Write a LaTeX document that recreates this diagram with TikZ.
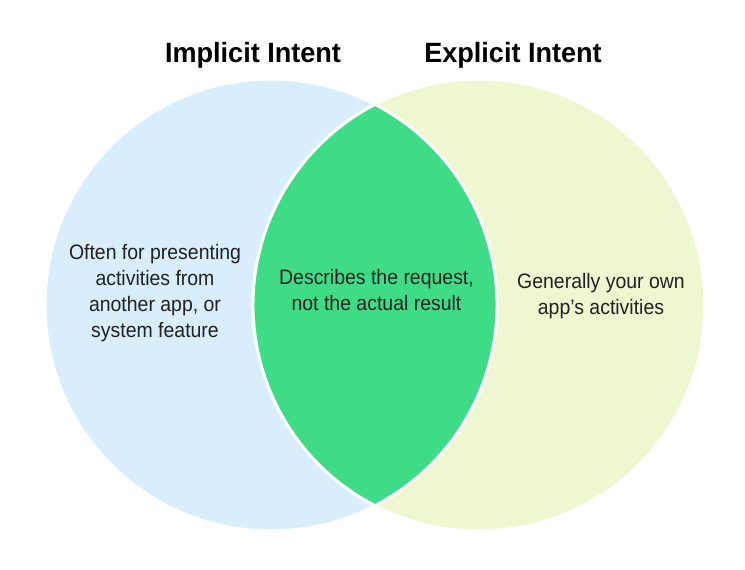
\documentclass[tikz,border=0pt]{standalone}
\usepackage{fontspec}
\setmainfont{Liberation Sans}
\newfontfamily\bodyfont[FakeStretch=0.93]{Liberation Sans}
\newfontfamily\titlefont[FakeStretch=0.97]{Liberation Sans}
\definecolor{leftblue}{RGB}{216,238,252}
\definecolor{rightyellow}{RGB}{239,247,208}
\definecolor{lensgreen}{RGB}{63,220,136}
\definecolor{textdark}{RGB}{33,33,33}
\newcommand{\linesblock}[1]{\begin{tabular}[t]{@{}c@{}}#1\end{tabular}}
\begin{document}
\begin{tikzpicture}[x=1bp,y=1bp,
  titletext/.style={anchor=base, inner sep=0pt, text=black, font=\titlefont\bfseries\fontsize{28}{32}\selectfont},
  bodytext/.style={anchor=base, inner sep=0pt, text=textdark, font=\bodyfont\fontsize{21}{26}\selectfont},
  setfill/.style={draw=white, line width=3bp}]
\useasboundingbox (0,0) rectangle (745,570);
\coordinate (L) at (271,265);
\coordinate (R) at (479,265);
\coordinate (top) at (375,465.6);
\fill[setfill, fill=leftblue] (L) circle[radius=226];
\fill[setfill, fill=rightyellow] (R) circle[radius=226];
\filldraw[setfill, fill=lensgreen] (top) arc[start angle=62.6, end angle=-62.6, radius=226]
  arc[start angle=242.6, end angle=117.4, radius=226] -- cycle;
\node[titletext] (tl) at (253,507.3) {Implicit Intent};
\node[titletext] (tr) at (513,507.3) {Explicit Intent};
\node[bodytext] (bl) at (155,310) {\linesblock{Often for presenting\\activities from\\another app, or\\system feature}};
\node[bodytext] (bc) at (376.5,285) {\linesblock{Describes the request,\\not the actual result}};
\node[bodytext] (br) at (601,281) {\linesblock{Generally your own\\app’s activities}};
\end{tikzpicture}
\end{document}
